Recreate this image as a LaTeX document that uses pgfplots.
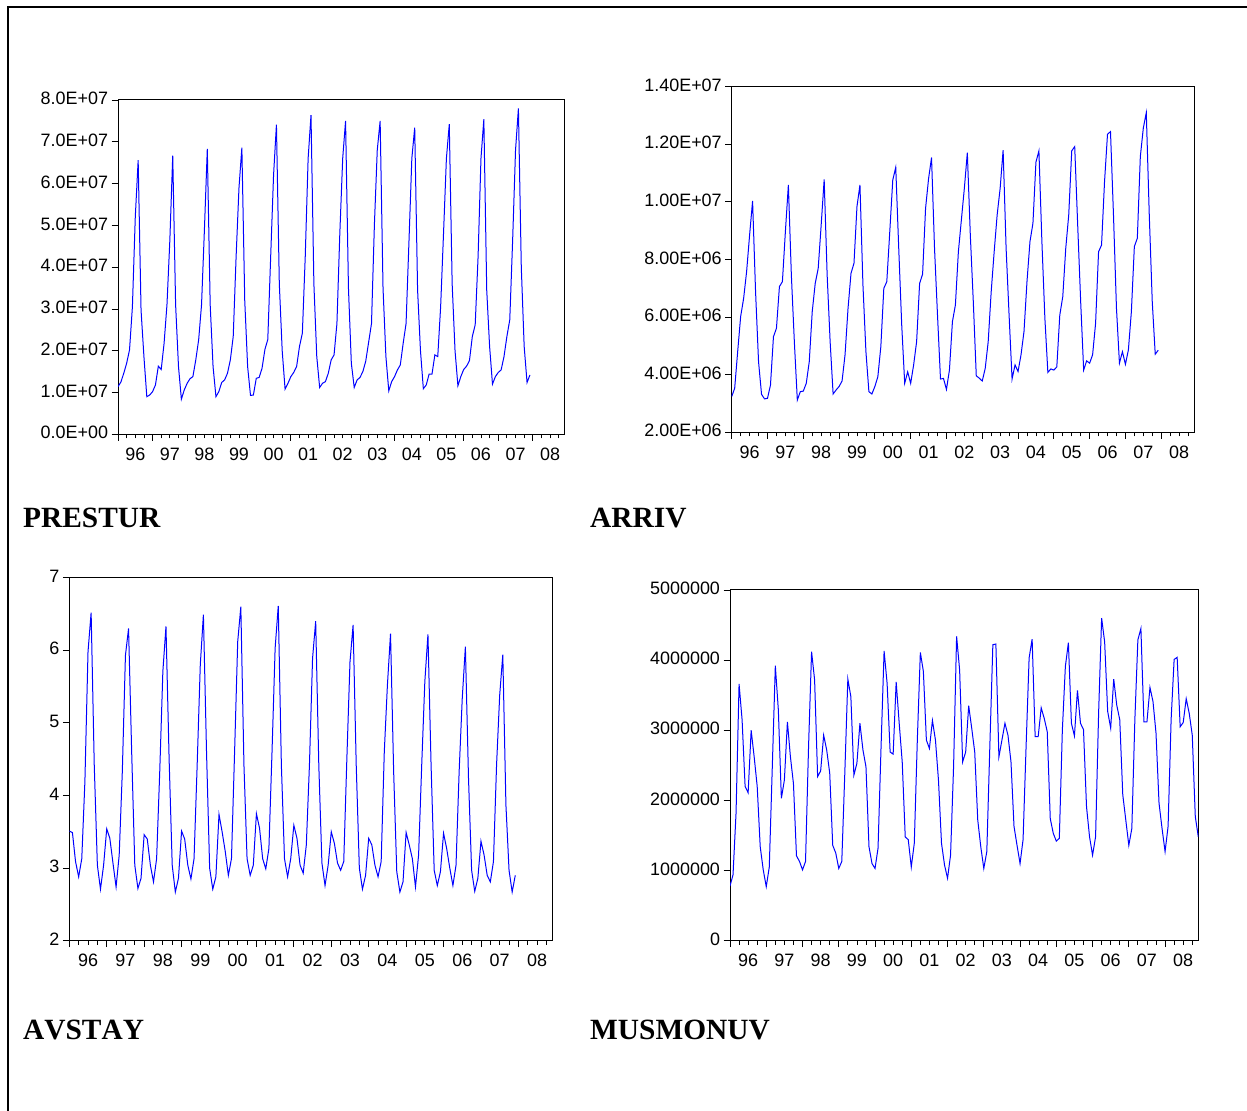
\documentclass[border=0pt]{standalone}
\usepackage{pgfplots}
\usepackage{pgfplotstable}
\pgfplotsset{compat=1.18}
\usepackage{fontspec}
\setmainfont{Liberation Sans}
\newfontfamily\tnr[Kerning=Off]{Liberation Serif}

% PRESTUR, units of 1E+07, 1996M01-2007M12
\pgfplotstableread[row sep=\\]{v\\
1.14\\1.25\\1.46\\1.70\\2.02\\3.05\\5.20\\6.56\\2.97\\1.86\\0.90\\0.94\\
1.02\\1.18\\1.63\\1.55\\2.18\\3.10\\4.65\\6.67\\3.10\\1.62\\0.84\\1.06\\
1.22\\1.33\\1.38\\1.78\\2.26\\3.10\\4.90\\6.83\\3.10\\1.62\\0.90\\1.02\\
1.24\\1.30\\1.46\\1.78\\2.34\\4.25\\5.90\\6.86\\3.20\\1.62\\0.93\\0.94\\
1.34\\1.36\\1.58\\2.03\\2.27\\4.25\\6.20\\7.41\\3.60\\2.00\\1.08\\1.22\\
1.38\\1.48\\1.62\\2.10\\2.42\\4.25\\6.60\\7.64\\3.60\\1.86\\1.12\\1.22\\
1.26\\1.46\\1.78\\1.90\\2.65\\4.80\\6.60\\7.50\\3.50\\1.70\\1.12\\1.30\\
1.36\\1.50\\1.75\\2.20\\2.65\\5.00\\6.80\\7.50\\3.50\\1.86\\1.04\\1.26\\
1.38\\1.54\\1.66\\2.18\\2.65\\4.60\\6.60\\7.34\\3.45\\2.00\\1.09\\1.18\\
1.44\\1.44\\1.90\\1.86\\3.05\\4.80\\6.60\\7.42\\3.60\\2.00\\1.16\\1.38\\
1.55\\1.63\\1.76\\2.34\\2.62\\4.25\\6.60\\7.54\\3.45\\2.10\\1.20\\1.38\\
1.48\\1.54\\1.86\\2.34\\2.74\\4.65\\6.80\\7.80\\4.00\\2.10\\1.24\\1.42\\
}\prestur

% ARRIV, units of 1E+06
\pgfplotstableread[row sep=\\]{v\\
3.24\\3.53\\4.80\\6.02\\6.65\\7.58\\8.85\\10.03\\6.88\\4.45\\3.32\\3.16\\
3.18\\3.64\\5.32\\5.61\\7.06\\7.23\\8.97\\10.59\\7.46\\5.15\\3.12\\3.41\\
3.43\\3.70\\4.45\\6.19\\7.17\\7.69\\9.20\\10.78\\7.46\\5.15\\3.33\\3.47\\
3.59\\3.78\\4.69\\6.30\\7.52\\7.87\\9.84\\10.59\\7.12\\4.80\\3.41\\3.33\\
3.59\\3.93\\4.97\\7.00\\7.23\\8.97\\10.76\\11.20\\8.39\\5.73\\3.70\\4.10\\
3.70\\4.34\\5.15\\7.17\\7.49\\9.78\\10.80\\11.54\\8.39\\6.07\\3.85\\3.87\\
3.49\\4.16\\5.84\\6.42\\8.27\\9.37\\10.47\\11.71\\8.85\\6.54\\3.96\\3.88\\
3.78\\4.22\\5.15\\6.88\\8.27\\9.55\\10.47\\11.80\\8.39\\6.07\\3.85\\4.34\\
4.11\\4.69\\5.50\\7.23\\8.62\\9.26\\11.38\\11.77\\8.62\\5.96\\4.08\\4.20\\
4.16\\4.27\\6.07\\6.71\\8.39\\9.55\\11.77\\11.92\\9.20\\6.54\\4.16\\4.48\\
4.40\\4.69\\5.78\\8.27\\8.50\\10.70\\12.35\\12.44\\9.55\\6.31\\4.40\\4.80\\
4.36\\4.86\\6.19\\8.45\\8.74\\11.57\\12.56\\13.10\\9.55\\6.54\\4.71\\4.85\\
}\arriv

% AVSTAY
\pgfplotstableread[row sep=\\]{v\\
3.51\\3.49\\3.09\\2.88\\3.13\\4.19\\5.98\\6.52\\4.42\\3.04\\2.71\\3.04\\
3.54\\3.41\\3.07\\2.74\\3.18\\4.33\\5.93\\6.30\\4.60\\3.04\\2.72\\2.86\\
3.46\\3.40\\3.04\\2.81\\3.13\\4.33\\5.71\\6.33\\4.51\\3.04\\2.67\\2.86\\
3.51\\3.40\\3.04\\2.85\\3.13\\4.42\\5.80\\6.49\\4.60\\3.00\\2.71\\2.88\\
3.74\\3.50\\3.23\\2.90\\3.13\\4.60\\6.12\\6.60\\4.42\\3.13\\2.90\\3.04\\
3.75\\3.55\\3.13\\2.99\\3.27\\4.60\\6.03\\6.61\\4.42\\3.13\\2.88\\3.13\\
3.59\\3.41\\3.04\\2.93\\3.32\\4.42\\5.89\\6.40\\4.42\\3.07\\2.76\\3.04\\
3.50\\3.34\\3.07\\2.97\\3.09\\4.51\\5.84\\6.35\\4.42\\3.00\\2.71\\2.90\\
3.41\\3.32\\3.04\\2.88\\3.09\\4.60\\5.52\\6.23\\4.33\\2.95\\2.67\\2.81\\
3.49\\3.32\\3.13\\2.74\\3.18\\4.42\\5.57\\6.22\\4.42\\2.97\\2.76\\2.95\\
3.48\\3.27\\3.00\\2.76\\3.04\\4.33\\5.34\\6.05\\4.24\\2.97\\2.68\\2.86\\
3.37\\3.18\\2.90\\2.81\\3.09\\4.42\\5.38\\5.94\\3.87\\2.97\\2.67\\2.90\\
}\avstay

% MUSMONUV, units of 1E+06, 1996M01-2008M12
\pgfplotstableread[row sep=\\]{v\\
0.78\\0.94\\1.82\\3.66\\3.15\\2.20\\2.11\\3.00\\2.62\\2.20\\1.34\\1.01\\
0.77\\1.05\\2.48\\3.92\\3.29\\2.03\\2.29\\3.12\\2.62\\2.24\\1.21\\1.13\\
1.01\\1.13\\2.77\\4.12\\3.72\\2.34\\2.42\\2.93\\2.72\\2.39\\1.36\\1.25\\
1.03\\1.13\\2.39\\3.73\\3.48\\2.36\\2.53\\3.10\\2.72\\2.48\\1.34\\1.10\\
1.03\\1.32\\2.77\\4.13\\3.67\\2.69\\2.66\\3.69\\3.10\\2.55\\1.48\\1.44\\
1.05\\1.39\\2.86\\4.11\\3.84\\2.86\\2.74\\3.14\\2.86\\2.29\\1.39\\1.08\\
0.89\\1.22\\2.48\\4.34\\3.86\\2.55\\2.69\\3.35\\3.03\\2.69\\1.72\\1.34\\
1.03\\1.27\\2.77\\4.22\\4.23\\2.62\\2.86\\3.10\\2.93\\2.55\\1.63\\1.36\\
1.10\\1.44\\2.77\\4.03\\4.30\\2.91\\2.91\\3.32\\3.17\\2.98\\1.74\\1.53\\
1.42\\1.46\\3.00\\3.91\\4.25\\3.10\\2.92\\3.57\\3.10\\3.01\\1.91\\1.48\\
1.22\\1.48\\3.24\\4.60\\4.26\\3.27\\3.03\\3.73\\3.36\\3.15\\2.08\\1.72\\
1.36\\1.60\\3.15\\4.29\\4.45\\3.12\\3.12\\3.61\\3.41\\2.96\\1.96\\1.60\\
1.27\\1.63\\3.15\\4.01\\4.04\\3.05\\3.11\\3.45\\3.24\\2.93\\1.77\\1.48\\
}\musmonuv

\pgfplotsset{
  evstyle/.style={
    scale only axis,
    xmin=0, xmax=155,
    axis line style={black, line width=1bp},
    tick align=outside,
    tick pos=left,
    major tick length=6.5bp,
    minor tick length=4bp,
    tick style={black, line width=0.8bp},
    xtick={0,12,...,144},
    xticklabels={96,97,98,99,00,01,02,03,04,05,06,07,08},
    minor xtick={0,3,...,153},
    tick label style={font=\fontsize{18}{20}\selectfont},
    yticklabel style={yshift=1.5bp},
    clip=true,
  },
  series/.style={blue, line width=1bp, mark=none},
}

\begin{document}
\begin{tikzpicture}
\path[use as bounding box] (0bp,0bp) rectangle (1247bp,1111bp);
\draw[line width=2bp, black] (8bp,0bp) -- (8bp,1104bp) -- (1247bp,1104bp);

% PRESTUR
\begin{axis}[evstyle, at={(118bp,676.7bp)}, anchor=south west,
  width=446.5bp, height=334.3bp,
  ymin=0, ymax=8, ytick={0,1,...,8},
  yticklabels={0.0E+00,1.0E+07,2.0E+07,3.0E+07,4.0E+07,5.0E+07,6.0E+07,7.0E+07,8.0E+07},
  xticklabel style={xshift=17.28bp, yshift=-3.5bp}]
\addplot[series] table[x expr=\coordindex, y=v] {\prestur};
\end{axis}

% ARRIV
\begin{axis}[evstyle, at={(731.7bp,678.7bp)}, anchor=south west,
  width=462.3bp, height=345.6bp,
  ymin=2, ymax=14, ytick={2,4,...,14},
  yticklabels={2.00E+06,4.00E+06,6.00E+06,8.00E+06,1.00E+07,1.20E+07,1.40E+07},
  xticklabel style={xshift=17.9bp, yshift=-3.5bp}]
\addplot[series] table[x expr=\coordindex, y=v] {\arriv};
\end{axis}

% AVSTAY
\begin{axis}[evstyle, at={(69.3bp,170.3bp)}, anchor=south west,
  width=483.4bp, height=363bp,
  ymin=2, ymax=7, ytick={2,3,...,7},
  yticklabels={2,3,4,5,6,7},
  xticklabel style={xshift=18.71bp, yshift=-3.5bp}]
\addplot[series] table[x expr=\coordindex, y=v] {\avstay};
\end{axis}

% MUSMONUV
\begin{axis}[evstyle, at={(730bp,170.3bp)}, anchor=south west,
  width=468.3bp, height=350.7bp,
  ymin=0, ymax=5, ytick={0,1,...,5},
  yticklabels={0,1000000,2000000,3000000,4000000,5000000},
  xticklabel style={xshift=18.13bp, yshift=-3.5bp}]
\addplot[series] table[x expr=\coordindex, y=v] {\musmonuv};
\end{axis}

\node[anchor=base west, inner sep=0pt, font=\tnr\bfseries\fontsize{29.5}{32}\selectfont] at (23bp,583bp) {PRESTUR};
\node[anchor=base west, inner sep=0pt, font=\tnr\bfseries\fontsize{29.5}{32}\selectfont] at (590bp,583bp) {ARRIV};
\node[anchor=base west, inner sep=0pt, font=\tnr\bfseries\fontsize{29.5}{32}\selectfont] at (23bp,71.7bp) {AVSTAY};
\node[anchor=base west, inner sep=0pt, font=\tnr\bfseries\fontsize{29.5}{32}\selectfont] at (590bp,71.7bp) {MUSMONUV};
\end{tikzpicture}
\end{document}
